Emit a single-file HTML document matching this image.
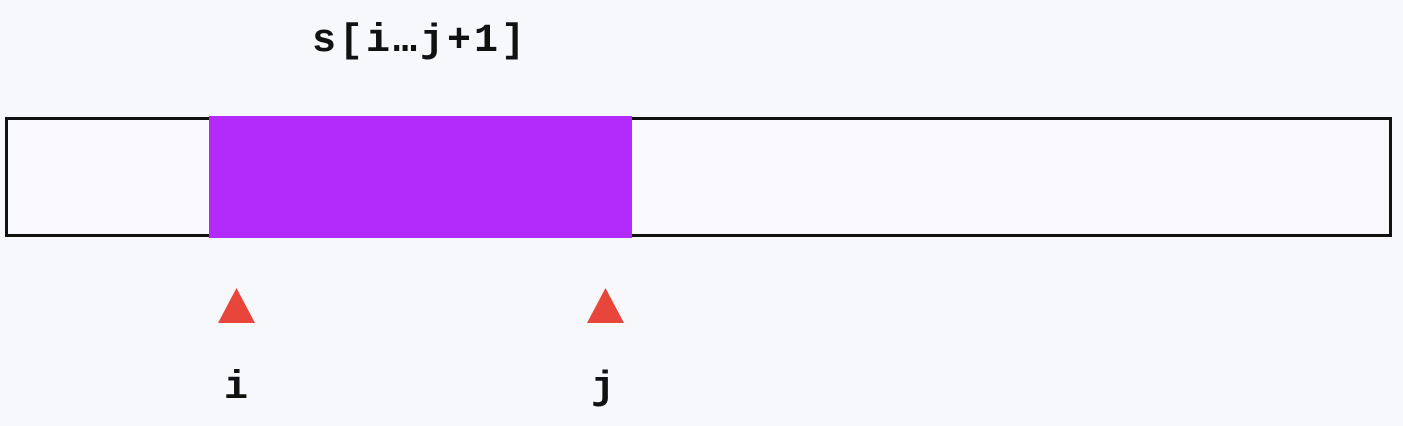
<!DOCTYPE html>
<html><head><meta charset="utf-8"><style>
html,body{margin:0;padding:0;background:#f7f8fc;}
body{width:1403px;height:426px;position:relative;overflow:hidden;font-family:"Liberation Mono","DejaVu Sans Mono",monospace;font-weight:bold;color:#111;}
.t{position:absolute;white-space:nowrap;line-height:1;}
</style></head><body>
<svg width="1403" height="426" style="position:absolute;left:0;top:0">
<rect x="6.5" y="118.5" width="1384" height="117" fill="#f9f9fd" stroke="#111" stroke-width="3"/>
<rect x="209" y="116" width="423" height="122" fill="#b22bfb"/>
<polygon points="236.5,288 218,323 255,323" fill="#e8463a"/>
<polygon points="605.5,288 587,323 624,323" fill="#e8463a"/>
</svg>
<div class="t" style="left:312px;top:22px;font-size:40px;letter-spacing:3px;">s[i…j+1]</div>
<div class="t" style="left:224px;top:369px;font-size:40px;">i</div>
<div class="t" style="left:591px;top:369px;font-size:40px;">j</div>
</body></html>
